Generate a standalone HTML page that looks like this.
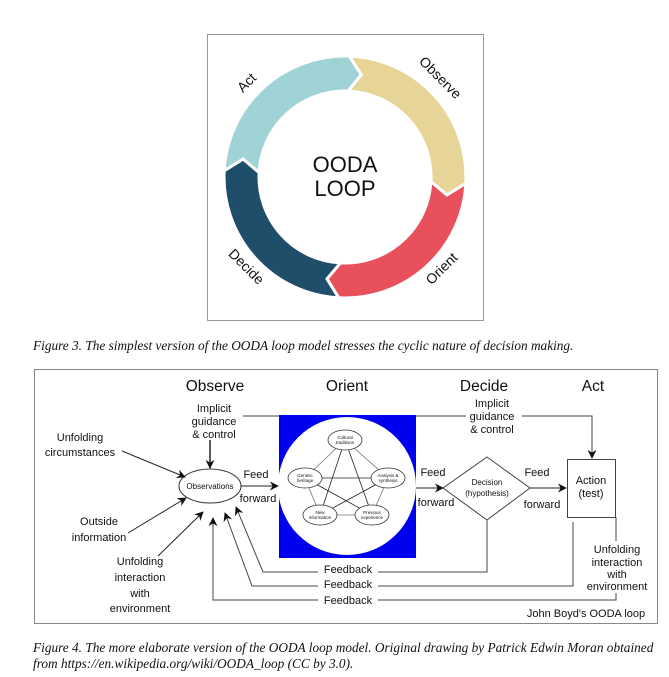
<!DOCTYPE html>
<html><head><meta charset="utf-8"><style>
html,body{margin:0;padding:0;background:#fff;}
svg{display:block;}
text{font-family:"Liberation Sans",sans-serif;fill:#111;}
.cap{font-family:"Liberation Serif",serif;font-style:italic;font-size:13.3px;fill:#111;}
</style></head><body>
<svg width="669" height="677" viewBox="0 0 669 677" xmlns="http://www.w3.org/2000/svg">
<defs>
<marker id="ar" viewBox="0 0 10 10" refX="9" refY="5" markerWidth="9" markerHeight="9" orient="auto" markerUnits="userSpaceOnUse">
<path d="M0,0 L10,5 L0,10 L3,5 Z" fill="#111"/></marker>
</defs>
<rect x="207.5" y="34.5" width="276" height="286" fill="#fff" stroke="#999" stroke-width="1"/>
<g stroke="#fff" stroke-width="3" stroke-linejoin="miter">
<path id="s1" fill="#e6d596"/>
<path id="s2" fill="#e8505b"/>
<path id="s3" fill="#1f4e6b"/>
<path id="s4" fill="#9fd3d6"/>
</g>
<text x="345" y="172" font-size="22" text-anchor="middle">OODA</text>
<text x="345" y="196" font-size="22" text-anchor="middle">LOOP</text>
<text font-size="14" text-anchor="middle" transform="translate(250,86) rotate(-45)">Act</text>
<text font-size="14" text-anchor="middle" transform="translate(437,81) rotate(45)">Observe</text>
<text font-size="14" text-anchor="middle" transform="translate(243,270) rotate(45)">Decide</text>
<text font-size="14" text-anchor="middle" transform="translate(445,272) rotate(-45)">Orient</text>

<text class="cap" x="33" y="350">Figure 3. The simplest version of the OODA loop model stresses the cyclic nature of decision making.</text>

<rect x="34.5" y="369.5" width="623" height="254" fill="#fff" stroke="#888" stroke-width="1"/>
<g font-size="15.5" text-anchor="middle">
<text x="215" y="391">Observe</text><text x="347" y="391">Orient</text>
<text x="484" y="391">Decide</text><text x="593" y="391">Act</text>
</g>
<polyline points="243,416 592,416 592,458" fill="none" stroke="#444" stroke-width="1" marker-end="url(#ar)"/>
<rect x="279" y="415" width="137" height="143" fill="#0000f0"/>
<circle cx="347" cy="486" r="69" fill="#fff"/>
<g stroke="#222" stroke-width="0.8" fill="none">
<polygon points="345,440 388,478 372,515 320,515 305,478" stroke="#777"/>
<polyline points="345,440 372,515 305,478 388,478 320,515 345,440"/>
</g>
<g fill="#fff" stroke="#333" stroke-width="0.8">
<ellipse cx="345" cy="440" rx="17" ry="10"/><ellipse cx="305" cy="478" rx="17" ry="10"/>
<ellipse cx="388" cy="478" rx="17" ry="10"/><ellipse cx="320" cy="515" rx="17" ry="10"/>
<ellipse cx="372" cy="515" rx="17" ry="10"/>
</g>
<g font-size="4.5" text-anchor="middle" fill="#555">
<text x="345" y="439">Cultural</text><text x="345" y="444">traditions</text>
<text x="305" y="477">Genetic</text><text x="305" y="482">heritage</text>
<text x="388" y="477">Analysis &amp;</text><text x="388" y="482">synthesis</text>
<text x="320" y="514">New</text><text x="320" y="519">information</text>
<text x="372" y="514">Previous</text><text x="372" y="519">experience</text>
</g>
<ellipse cx="210" cy="486" rx="31" ry="17" fill="#fff" stroke="#333" stroke-width="1"/>
<text x="210" y="489" font-size="8" text-anchor="middle">Observations</text>
<polygon points="487,457 530,488 487,520 443,488" fill="#fff" stroke="#444" stroke-width="1"/>
<text x="487" y="485" font-size="8" text-anchor="middle">Decision</text>
<text x="487" y="496" font-size="8" text-anchor="middle">(hypothesis)</text>
<rect x="567.5" y="459.5" width="48" height="58" fill="#fff" stroke="#444" stroke-width="1"/>
<text x="591" y="484" font-size="11" text-anchor="middle">Action</text>
<text x="591" y="497" font-size="11" text-anchor="middle">(test)</text>
<g stroke="#222" stroke-width="1" fill="none">
<line x1="241" y1="486" x2="278" y2="486" marker-end="url(#ar)"/>
<line x1="416" y1="488" x2="443" y2="488" marker-end="url(#ar)"/>
<line x1="530" y1="488" x2="566" y2="488" marker-end="url(#ar)"/>
<line x1="210" y1="440" x2="210" y2="468" stroke-width="1.5" marker-end="url(#ar)"/>
<line x1="122" y1="451" x2="185" y2="477" marker-end="url(#ar)"/>
<line x1="128" y1="533" x2="186" y2="498" marker-end="url(#ar)"/>
<line x1="158" y1="556" x2="203" y2="512" marker-end="url(#ar)"/>
</g>
<g stroke="#444" stroke-width="1" fill="none">
<polyline points="487,520 487,572 263,572 236,507" marker-end="url(#ar)"/>
<polyline points="573,522 573,586 252,586 225,513" marker-end="url(#ar)"/>
<polyline points="616,517 616,600 213,600 213,518" marker-end="url(#ar)"/>
</g>
<g font-size="11" text-anchor="middle">
<rect x="318" y="563" width="60" height="12" fill="#fff"/><text x="348" y="573">Feedback</text>
<rect x="318" y="577" width="60" height="12" fill="#fff"/><text x="348" y="588">Feedback</text>
<rect x="318" y="591" width="60" height="12" fill="#fff"/><text x="348" y="604">Feedback</text>
<rect x="590" y="541" width="58" height="52" fill="#fff"/>
<text x="617" y="553">Unfolding</text><text x="617" y="566">interaction</text>
<text x="617" y="578">with</text><text x="617" y="590">environment</text>
<text x="214" y="412">Implicit</text><text x="214" y="425">guidance</text><text x="214" y="438">&amp; control</text>
<rect x="466" y="398" width="56" height="38" fill="#fff"/>
<text x="492" y="407">Implicit</text><text x="492" y="420">guidance</text><text x="492" y="433">&amp; control</text>
<text x="80" y="441">Unfolding</text><text x="80" y="456">circumstances</text>
<text x="99" y="525">Outside</text><text x="99" y="541">information</text>
<text x="140" y="565">Unfolding</text><text x="140" y="581">interaction</text>
<text x="140" y="597">with</text><text x="140" y="612">environment</text>
<text x="256" y="478">Feed</text><text x="258" y="502">forward</text>
<text x="433" y="476">Feed</text><text x="436" y="506">forward</text>
<text x="537" y="476">Feed</text><text x="542" y="508">forward</text>
<text x="586" y="617">John Boyd's OODA loop</text>
</g>

<text class="cap" x="33" y="652">Figure 4. The more elaborate version of the OODA loop model. Original drawing by Patrick Edwin Moran obtained</text>
<text class="cap" x="33" y="668">from https://en.wikipedia.org/wiki/OODA_loop (CC by 3.0).</text>
</svg>
<script>
(function(){
var cx=345,cy=177,R=121,r=86,m=103.5,t=7;
function p(a,rad){a=a*Math.PI/180;return (cx+rad*Math.cos(a)).toFixed(1)+","+(cy+rad*Math.sin(a)).toFixed(1);}
function seg(a1,a2){
 return "M"+p(a1,R)+" A"+R+","+R+" 0 0 1 "+p(a2,R)+" L"+p(a2+t,m)+" L"+p(a2,r)+" A"+r+","+r+" 0 0 0 "+p(a1,r)+" L"+p(a1+t,m)+" Z";}
var b=[-88,3,93,183,272];
for(var i=0;i<4;i++)document.getElementById("s"+(i+1)).setAttribute("d",seg(b[i],b[i+1]));
})();
</script>
</body></html>
